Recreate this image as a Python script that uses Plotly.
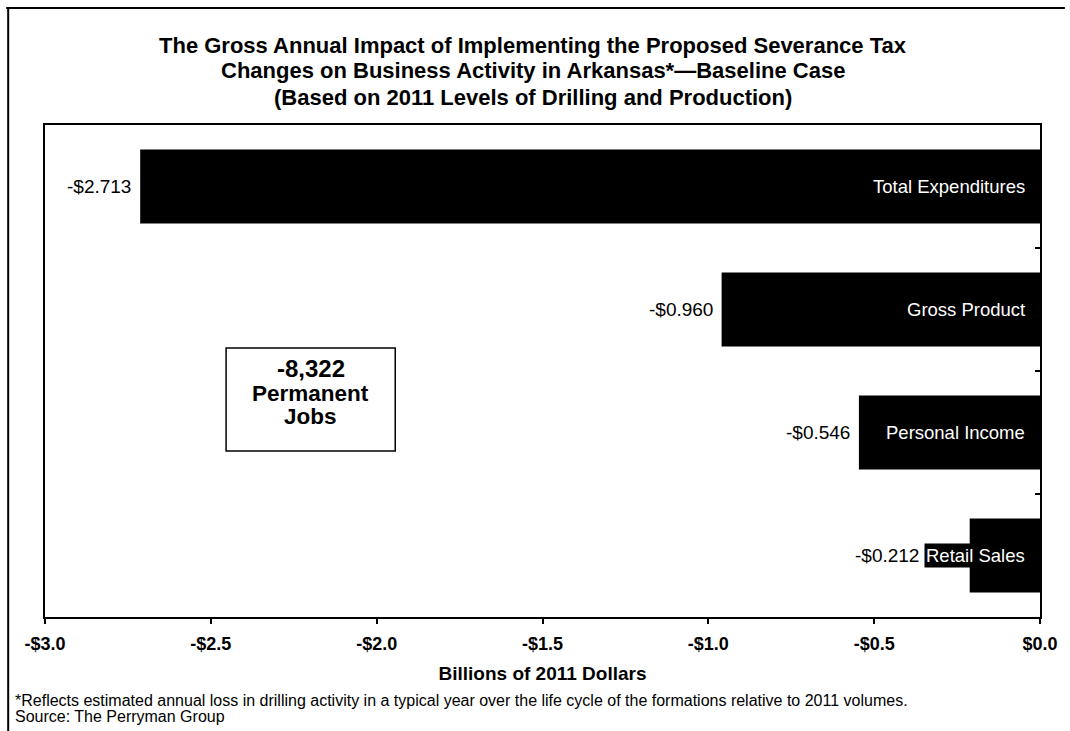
import plotly.graph_objects as go

# Gross annual impact, billions of 2011 dollars
categories = ["Total Expenditures", "Gross Product", "Personal Income", "Retail Sales"]
values = [-2.713, -0.960, -0.546, -0.212]
value_labels = ["-$2.713", "-$0.960", "-$0.546", "-$0.212"]

tick_vals = [-3.0, -2.5, -2.0, -1.5, -1.0, -0.5, 0.0]
tick_text = ["-$3.0", "-$2.5", "-$2.0", "-$1.5", "-$1.0", "-$0.5", "$0.0"]

jobs_lines = ["-8,322", "Permanent", "Jobs"]

title_lines = [
    "The Gross Annual Impact of Implementing the Proposed Severance Tax",
    "Changes on Business Activity in Arkansas*\u2014Baseline Case",
    "(Based on 2011 Levels of Drilling and Production)",
]
footnote = ("*Reflects estimated annual loss in drilling activity in a typical year over the "
            "life cycle of the formations relative to 2011 volumes.")
source = "Source: The Perryman Group"

FONT = "Arial, Liberation Sans, sans-serif"
W, H = 1070, 731
M_L, M_R, M_T, M_B = 45, 25, 125, 114
plot_w = W - M_L - M_R
plot_h = H - M_T - M_B
x_min, x_max = -3.0, 0.0
px_per_unit = plot_w / (x_max - x_min)


def px_x(x):
    """pixel column -> paper x"""
    return (x - M_L) / plot_w


def px_y(y):
    """pixel row -> paper y"""
    return (H - M_B - y) / plot_h


ypos = list(range(len(categories)))

fig = go.Figure()
fig.add_trace(go.Bar(
    x=values, y=ypos, orientation="h", width=0.6,
    marker=dict(color="black", line=dict(width=0)),
    hoverinfo="skip", showlegend=False,
))

label_size = 18.5
label_inset = 13
annotations = []
for y, v, cat, vl in zip(ypos, values, categories, value_labels):
    # category name in white on black, right-aligned inside the bar
    annotations.append(dict(
        x=0, y=y, xref="x", yref="y", text=cat, showarrow=False,
        xanchor="right", yanchor="middle", xshift=-label_inset,
        font=dict(family=FONT, size=label_size, color="white"),
        bgcolor="black", borderpad=1,
    ))
    # value label to the left of the bar (or of the name box if it sticks out)
    name_w = 0.45 * label_size * len(cat) + 2
    bar_left_px = v * px_per_unit
    name_left_px = -(label_inset + name_w)
    shift = min(0.0, name_left_px - bar_left_px) - 7
    annotations.append(dict(
        x=v, y=y, xref="x", yref="y", text=vl, showarrow=False,
        xanchor="right", yanchor="middle", xshift=shift + (3 if shift < -7 else 0),
        font=dict(family=FONT, size=19, color="black"),
    ))

# jobs call-out box text
for line, ypx, size in zip(jobs_lines, [368, 393, 416], [24, 22.5, 22.5]):
    annotations.append(dict(
        x=px_x(312), y=px_y(ypx), xref="paper", yref="paper", showarrow=False,
        text=f"<b>{line}</b>", font=dict(family=FONT, size=size, color="black"),
        xanchor="center", yanchor="middle",
    ))

# title lines
for i, line in enumerate(title_lines):
    annotations.append(dict(
        x=px_x(535), y=px_y(45 + 26 * i),
        xref="paper", yref="paper", showarrow=False,
        text=f"<b>{line}</b>", font=dict(family=FONT, size=22, color="black"),
        xanchor="center", yanchor="middle",
    ))

# footnote and source
for text, ypx in [(footnote, 700), (source, 716)]:
    annotations.append(dict(
        x=px_x(13), y=px_y(ypx), xref="paper", yref="paper",
        showarrow=False, text=text, font=dict(family=FONT, size=16, color="black"),
        xanchor="left", yanchor="middle",
    ))

shapes = [
    # jobs call-out frame
    dict(type="rect", xref="paper", yref="paper",
         x0=px_x(227), x1=px_x(397), y0=px_y(451), y1=px_y(348),
         line=dict(color="black", width=1.5), fillcolor="rgba(0,0,0,0)"),
    # outer page frame: top and left edges
    dict(type="line", xref="paper", yref="paper",
         x0=px_x(6), x1=px_x(W), y0=px_y(8), y1=px_y(8),
         line=dict(color="black", width=2)),
    dict(type="line", xref="paper", yref="paper",
         x0=px_x(8), x1=px_x(8), y0=px_y(8), y1=px_y(H),
         line=dict(color="black", width=2)),
]

fig.update_layout(
    width=W, height=H,
    margin=dict(l=M_L, r=M_R, t=M_T, b=M_B),
    paper_bgcolor="white", plot_bgcolor="white",
    annotations=annotations, shapes=shapes,
    bargap=0.4,
)

fig.update_xaxes(
    range=[x_min, x_max], tickvals=tick_vals,
    ticktext=[f"<b>{t}</b>" for t in tick_text],
    tickfont=dict(family=FONT, size=18, color="black"),
    ticks="outside", ticklen=5, tickwidth=1.5, tickcolor="black",
    ticklabelstandoff=4,
    showline=True, linecolor="black", linewidth=2, mirror=True,
    showgrid=False, zeroline=False,
    title=dict(text="<b>Billions of 2011 Dollars</b>", standoff=14,
               font=dict(family=FONT, size=19, color="black")),
)
fig.update_yaxes(
    range=[len(categories) - 0.5, -0.5],
    tickvals=[0.5, 1.5, 2.5], showticklabels=False,
    side="right", ticks="inside", ticklen=5, tickwidth=1.5, tickcolor="black",
    showline=True, linecolor="black", linewidth=2, mirror=True,
    showgrid=False, zeroline=False,
)

fig.write_html("out.html")
